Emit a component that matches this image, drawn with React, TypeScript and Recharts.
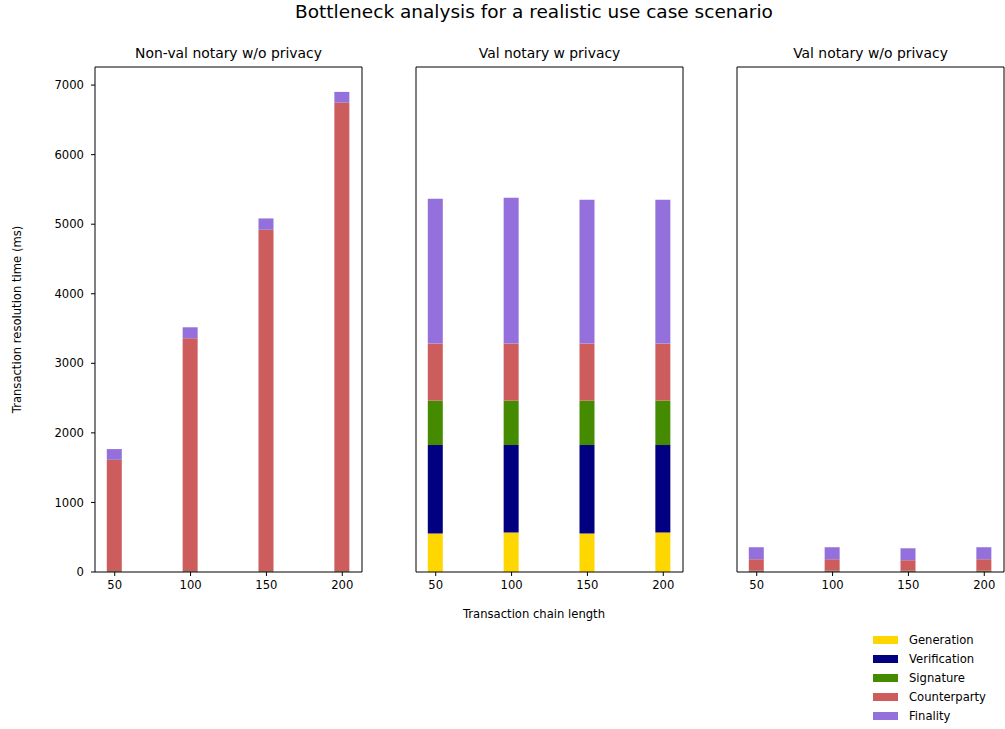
import React from "react";
import { Bar, BarChart, Legend, XAxis, YAxis } from "recharts";

const FONT = "'DejaVu Sans', sans-serif";

const chainLengths = [50, 100, 150, 200];
const xTicks = [50, 100, 150, 200];
const yTicks = [0, 1000, 2000, 3000, 4000, 5000, 6000, 7000];

// Non-val notary w/o privacy
const nvGeneration = [4, 4, 4, 4];
const nvVerification = [4, 4, 4, 4];
const nvSignature = [6, 6, 6, 6];
const nvCounterparty = [1599, 3346, 4906, 6735];
const nvFinality = [154, 158, 163, 153];

// Val notary w privacy
const vpGeneration = [553, 567, 553, 567];
const vpVerification = [1272, 1258, 1272, 1258];
const vpSignature = [638, 638, 638, 638];
const vpCounterparty = [821, 821, 821, 821];
const vpFinality = [2083, 2097, 2069, 2069];

// Val notary w/o privacy
const vnGeneration = [5, 5, 5, 5];
const vnVerification = [5, 5, 5, 5];
const vnSignature = [8, 8, 8, 8];
const vnCounterparty = [165, 165, 151, 165];
const vnFinality = [173, 173, 172, 173];

const series = [
  { key: "generation", name: "Generation", color: "#FFD700" },
  { key: "verification", name: "Verification", color: "#000080" },
  { key: "signature", name: "Signature", color: "#458B00" },
  { key: "counterparty", name: "Counterparty", color: "#CD5C5C" },
  { key: "finality", name: "Finality", color: "#9370DB" },
];
const seriesOrder = series.map((s) => s.name);

const buildRows = (g: number[], v: number[], s: number[], c: number[], f: number[]) =>
  chainLengths.map((len, i) => ({
    len,
    generation: g[i],
    verification: v[i],
    signature: s[i],
    counterparty: c[i],
    finality: f[i],
  }));

const nonValRows = buildRows(nvGeneration, nvVerification, nvSignature, nvCounterparty, nvFinality);
const valPrivRows = buildRows(vpGeneration, vpVerification, vpSignature, vpCounterparty, vpFinality);
const valNoPrivRows = buildRows(vnGeneration, vnVerification, vnSignature, vnCounterparty, vnFinality);

const X_DOMAIN = [37, 213];
const Y_DOMAIN = [0, 7260];

interface PanelProps {
  rows: any[];
  left: number;
  axisWidth: number;
  title: string;
  yLabels?: boolean;
  xLabel?: boolean;
  legend?: boolean;
}

const Panel: React.FC<PanelProps> = ({ rows, left, axisWidth, title, yLabels, xLabel, legend }) => {
  const width = axisWidth + 267 + 2;
  return (
    <div style={{ position: "absolute", left, top: 0 }}>
      <BarChart
        width={width}
        height={729}
        data={rows}
        margin={{ top: 66, right: 1, bottom: 132, left: 0 }}
      >
        <XAxis
          dataKey="len"
          type="number"
          domain={X_DOMAIN}
          ticks={xTicks}
          height={25}
          tickSize={4}
          tickMargin={5}
          stroke="#000"
          tick={{ fill: "#000", fontSize: 11.6, fontFamily: FONT }}
          label={
            xLabel
              ? {
                  content: () => (
                    <text x={164} y={618} textAnchor="middle" fontSize={11.6} fontFamily={FONT} fill="#000">
                      Transaction chain length
                    </text>
                  ),
                }
              : undefined
          }
        />
        <XAxis
          xAxisId="top"
          orientation="top"
          type="number"
          domain={X_DOMAIN}
          height={1}
          tick={false}
          tickLine={false}
          stroke="#000"
          label={{
            content: (p: any) => (
              <text
                x={p.viewBox.x + p.viewBox.width / 2}
                y={58}
                textAnchor="middle"
                fontSize={13.9}
                fontFamily={FONT}
                fill="#000"
              >
                {title}
              </text>
            ),
          }}
        />
        <YAxis
          type="number"
          domain={Y_DOMAIN}
          ticks={yTicks}
          width={axisWidth}
          tickSize={4}
          tickMargin={7}
          stroke="#000"
          tick={yLabels ? { fill: "#000", fontSize: 11.6, fontFamily: FONT } : false}
          label={
            yLabels
              ? {
                  content: () => (
                    <text
                      x={16.5}
                      y={319.5}
                      transform="rotate(-90 16.5 319.5)"
                      textAnchor="middle"
                      dominantBaseline="central"
                      fontSize={11.6}
                      fontFamily={FONT}
                      fill="#000"
                    >
                      Transaction resolution time (ms)
                    </text>
                  ),
                }
              : undefined
          }
        />
        <YAxis
          yAxisId="right"
          orientation="right"
          type="number"
          domain={Y_DOMAIN}
          width={1}
          tick={false}
          tickLine={false}
          stroke="#000"
        />
        {series.map((s) => (
          <Bar
            key={s.key}
            dataKey={s.key}
            name={s.name}
            stackId="a"
            fill={s.color}
            barSize={15}
            isAnimationActive={false}
          />
        ))}
        {legend && (
          <Legend
            layout="vertical"
            align="center"
            verticalAlign="bottom"
            wrapperStyle={{ left: 873 - left, top: 630, width: 135, height: 0 }}
            content={(props: any) => {
              const items = [...(props.payload || [])].sort(
                (a: any, b: any) => seriesOrder.indexOf(a.value) - seriesOrder.indexOf(b.value)
              );
              return (
                <div style={{ fontFamily: FONT, fontSize: 11.6, color: "#000" }}>
                  {items.map((e: any) => (
                    <div key={e.value} style={{ display: "flex", alignItems: "center", height: 19 }}>
                      <span
                        style={{ display: "inline-block", width: 25, height: 8, background: e.color, marginRight: 11 }}
                      />
                      <span>{e.value}</span>
                    </div>
                  ))}
                </div>
              );
            }}
          />
        )}
      </BarChart>
    </div>
  );
};

const App: React.FC = () => {
  return (
    <div style={{ position: "absolute", left: 0, top: 0, width: 1005, height: 729, background: "#fff", overflow: "hidden" }}>
      <div
        style={{
          position: "absolute",
          left: 534,
          top: 2,
          transform: "translateX(-50%)",
          whiteSpace: "nowrap",
          fontFamily: FONT,
          fontSize: 18.5,
          lineHeight: "20px",
          color: "#000",
        }}
      >
        Bottleneck analysis for a realistic use case scenario
      </div>
      <Panel rows={nonValRows} left={0} axisWidth={95} title="Non-val notary w/o privacy" yLabels />
      <Panel rows={valPrivRows} left={370} axisWidth={46} title="Val notary w privacy" xLabel />
      <Panel rows={valNoPrivRows} left={690} axisWidth={47} title="Val notary w/o privacy" legend />
    </div>
  );
};

export default App;
